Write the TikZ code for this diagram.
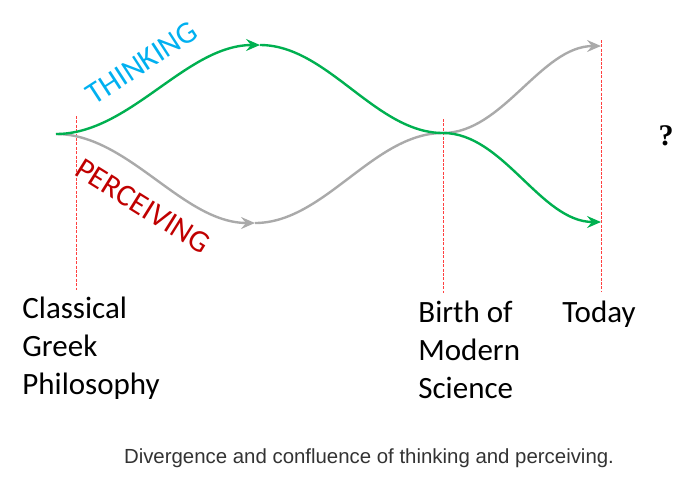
\documentclass[tikz,border=0pt]{standalone}
\usepackage{fontspec}
\setmainfont{Carlito}
\newfontfamily\capfont{Liberation Sans}
\newfontfamily\qfont{Liberation Serif}
\usetikzlibrary{arrows.meta}
\definecolor{thinkgreen}{RGB}{0,176,80}
\definecolor{percgray}{RGB}{170,170,170}
\definecolor{thinkblue}{RGB}{0,176,240}
\definecolor{percred}{RGB}{192,0,0}
\tikzset{
    flow/.style={line width=1.2pt, out=0, in=180, looseness=0.85},
    tip/.style={-{Stealth[length=7pt,width=6pt,inset=2.5pt]}},
    epoch/.style={red!75, line width=0.4pt, dash pattern=on 1.5pt off 0.7pt},
    era/.style={font=\fontsize{15.5}{19}\selectfont, align=left, inner sep=0pt},
    stream/.style={font=\fontsize{15.5}{19}\selectfont, inner sep=0pt},
}
\begin{document}
\begin{tikzpicture}[x=0.5pt,y=-0.5pt]
    \useasboundingbox (0,0) rectangle (696,484);
    % points where the two streams meet or turn
    \coordinate (start) at (56,134);
    \coordinate (tpeak) at (260,45);
    \coordinate (ppeak) at (255,223);
    \coordinate (cross) at (443,133);
    \coordinate (tend) at (601,222);
    \coordinate (pend) at (601,46);
    % epochs
    \coordinate (greektop) at (76,116);
    \coordinate (greekbot) at (76,290);
    \coordinate (birthtop) at (443,119);
    \coordinate (birthbot) at (443,293);
    \coordinate (todaytop) at (601,40);
    \coordinate (todaybot) at (601,292);
    \draw[epoch] (greektop) -- (greekbot);
    \draw[epoch] (birthtop) -- (birthbot);
    \draw[epoch] (todaytop) -- (todaybot);
    % perceiving
    \draw[flow,percgray,tip] (start) to (ppeak);
    \draw[flow,percgray] (ppeak) to (cross);
    \draw[flow,percgray,tip] (cross) to (pend);
    % thinking
    \draw[flow,thinkgreen,tip] (start) to (tpeak);
    \draw[flow,thinkgreen] (tpeak) to (cross);
    \draw[flow,thinkgreen,tip] (cross) to (tend);
    \node[stream,thinkblue,rotate=33] (think) at (142,63) {THINKING};
    \node[stream,percred,rotate=-32] (perc) at (143,206) {PERCEIVING};
    \node[era,anchor=north west] (greek) at (22,297) {Classical\\Greek\\Philosophy};
    \node[era,anchor=north west] (birth) at (418,301) {Birth of\\Modern\\Science};
    \node[era,anchor=north] (today) at (599,301) {Today};
    \node[font=\qfont\bfseries\fontsize{15}{17}\selectfont] (what) at (666,136) {?};
    \node[font=\capfont\fontsize{10.2}{12}\selectfont,text=black!80] (caption) at (369,458)
        {Divergence and confluence of thinking and perceiving.};
\end{tikzpicture}
\end{document}
